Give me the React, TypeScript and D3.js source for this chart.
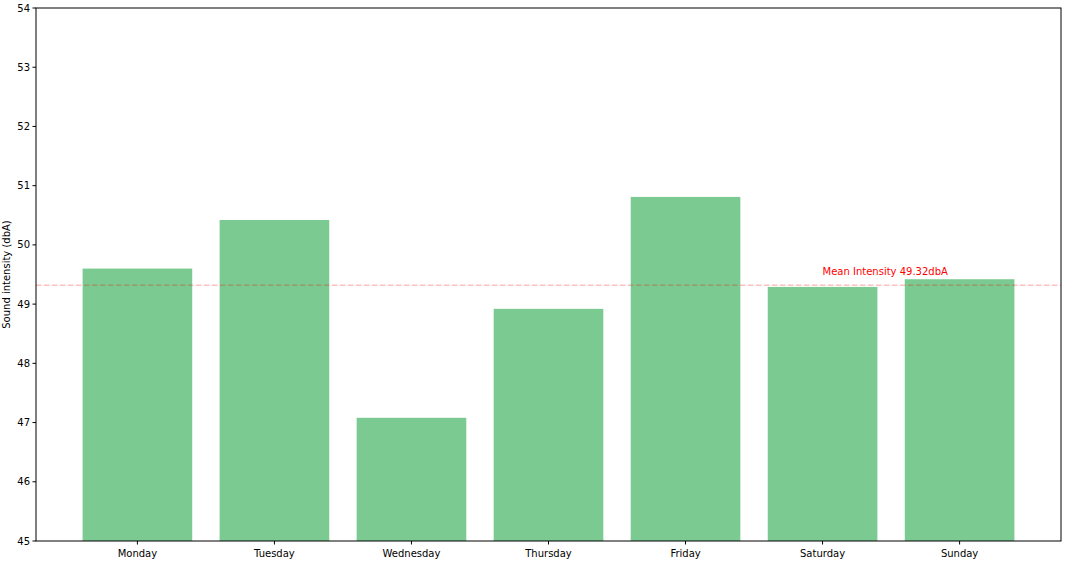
import React from "react";
import * as d3 from "d3";

const days = ["Monday", "Tuesday", "Wednesday", "Thursday", "Friday", "Saturday", "Sunday"];
const intensity = [49.6, 50.42, 47.08, 48.92, 50.81, 49.29, 49.42];
const yTicks = [45, 46, 47, 48, 49, 50, 51, 52, 53, 54];
const meanValue = 49.32;
const meanLabel = "Mean Intensity 49.32dbA";

export default function App() {
  const W = 1066, H = 562;
  const left = 36, right = 1061, top = 8, bottom = 541;
  const x = d3.scaleLinear().domain([-0.74, 6.74]).range([left, right]);
  const y = d3.scaleLinear().domain([45, 54]).range([bottom, top]);
  const bw = 0.8;
  const font = "DejaVu Sans, sans-serif";
  return (
    <svg width={W} height={H} style={{ position: "absolute", left: 0, top: 0 }}>
      <rect x={0} y={0} width={W} height={H} fill="#fff" />
      {intensity.map((v, i) => (
        <rect key={days[i]} x={x(i - bw / 2)} y={y(v)} width={x(i + bw / 2) - x(i - bw / 2)} height={y(45) - y(v)} fill="#7aca91" />
      ))}
      <line x1={left} x2={right} y1={y(meanValue)} y2={y(meanValue)} stroke="rgba(255,0,0,0.25)" strokeWidth={1.5} strokeDasharray="5.5,2.5" />
      <text x={x(5)} y={y(49.5)} fill="red" fontFamily={font} fontSize={10}>{meanLabel}</text>
      <rect x={left} y={top} width={right - left} height={bottom - top} fill="none" stroke="#000" strokeWidth={1} />
      {yTicks.map(t => (
        <g key={t}>
          <line x1={left - 3.5} x2={left} y1={y(t)} y2={y(t)} stroke="#000" strokeWidth={1} />
          <text x={left - 6} y={y(t)} dy="0.35em" textAnchor="end" fontFamily={font} fontSize={10} fill="#000">{t}</text>
        </g>
      ))}
      {days.map((d, i) => (
        <g key={d}>
          <line x1={x(i)} x2={x(i)} y1={bottom} y2={bottom + 3.5} stroke="#000" strokeWidth={1} />
          <text x={x(i)} y={bottom + 16} textAnchor="middle" fontFamily={font} fontSize={10} fill="#000">{d}</text>
        </g>
      ))}
      <text transform={`translate(10,${(top + bottom) / 2}) rotate(-90)`} textAnchor="middle" fontFamily={font} fontSize={10} fill="#000">Sound intensity (dbA)</text>
    </svg>
  );
}
